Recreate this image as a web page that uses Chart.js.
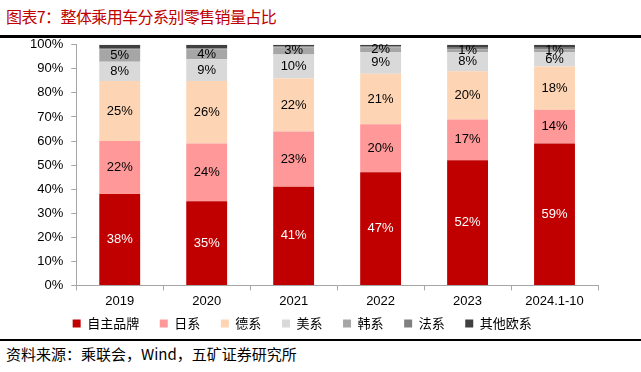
<!DOCTYPE html>
<html>
<head>
<meta charset="utf-8">
<script src="https://cdn.jsdelivr.net/npm/chart.js@4/dist/chart.umd.min.js"></script>
<style>
  body { margin: 0; background: #fff; width: 641px; height: 372px; position: relative; overflow: hidden; }
  #title { position: absolute; left: 6px; top: 4px; font: 16px "Noto Sans CJK SC", sans-serif; letter-spacing: -0.6px; color: #C00000; }
  #topline { position: absolute; left: 0; top: 35px; width: 641px; height: 3px; background: #000; }
  #wrap { position: absolute; left: 0; top: 29px; width: 641px; height: 309px; }
  #botline { position: absolute; left: 0; top: 339px; width: 641px; height: 2px; background: #000; }
  #source { position: absolute; left: 6px; top: 343px; font: 15px "Noto Sans CJK SC", sans-serif; color: #000; }
</style>
</head>
<body>
<div id="title">图表7：整体乘用车分系别零售销量占比</div>
<div id="topline"></div>
<div id="wrap"><canvas id="c"></canvas></div>
<div id="botline"></div>
<div id="source">资料来源：乘联会，Wind，五矿证券研究所</div>
<script>
const years = ['2019', '2020', '2021', '2022', '2023', '2024.1-10'];
const yTicks = [0, 10, 20, 30, 40, 50, 60, 70, 80, 90, 100];

const domestic = [38, 35, 41, 47, 52, 59];
const japanese = [22, 24, 23, 20, 17, 14];
const german = [25, 26, 22, 21, 20, 18];
const american = [8, 9, 10, 9, 8, 6];
const korean = [5, 4, 3, 2, 1, 1];
const french = [0.7, 0.6, 0.3, 0.3, 0.8, 0.8];
const otherEu = [1.3, 1.4, 0.7, 0.7, 1.2, 1.2];

const labelFont = '13px "Liberation Sans", Arial, sans-serif';

const barLabels = {
  id: 'barLabels',
  afterDatasetsDraw(chart) {
    const ctx = chart.ctx;
    ctx.save();
    ctx.font = labelFont;
    ctx.textAlign = 'center';
    ctx.textBaseline = 'middle';
    chart.data.datasets.forEach((ds, i) => {
      if (!ds.showLabel) return;
      chart.getDatasetMeta(i).data.forEach((bar, j) => {
        const y = (bar.y + bar.base) / 2;
        ctx.fillStyle = i === 0 ? '#fff' : '#000';
        ctx.fillText(Math.round(ds.data[j]) + '%', bar.x, y);
      });
    });
    ctx.restore();
  }
};

// default legend items, with extra space after each name for wider spacing
const legendLabels = chart =>
  Chart.defaults.plugins.legend.labels.generateLabels(chart).map(item => ({ ...item, text: item.text + '\u3000\u2009' }));

new Chart(document.getElementById('c'), {
  type: 'bar',
  data: {
    labels: years,
    datasets: [
      { label: '自主品牌', data: domestic, backgroundColor: '#C00000', showLabel: true },
      { label: '日系', data: japanese, backgroundColor: '#FF9999', showLabel: true },
      { label: '德系', data: german, backgroundColor: '#FDD5B4', showLabel: true },
      { label: '美系', data: american, backgroundColor: '#D9D9D9', showLabel: true },
      { label: '韩系', data: korean, backgroundColor: '#A6A6A6', showLabel: true },
      { label: '法系', data: french, backgroundColor: '#808080', showLabel: false },
      { label: '其他欧系', data: otherEu, backgroundColor: '#404040', showLabel: false }
    ]
  },
  options: {
    responsive: true,
    maintainAspectRatio: false,
    animation: false,
    datasets: { bar: { barPercentage: 0.47, categoryPercentage: 1 } },
    layout: { padding: { left: 22, right: 43, top: 0, bottom: -2 } },
    plugins: {
      legend: {
        position: 'bottom',
        align: 'center',
        labels: {
          boxWidth: 8,
          boxHeight: 8,
          padding: 5,
          color: '#000',
          font: { family: '"Noto Sans CJK SC", sans-serif', size: 13 },
          generateLabels: legendLabels
        }
      },
      tooltip: { enabled: false }
    },
    scales: {
      x: {
        stacked: true,
        grid: { display: true, drawOnChartArea: false, drawTicks: true, tickLength: 5, color: '#A6A6A6' },
        border: { color: '#A6A6A6' },
        ticks: { color: '#000', font: { family: '"Liberation Sans", Arial, sans-serif', size: 13 }, padding: 3, maxRotation: 0 }
      },
      y: {
        stacked: true,
        min: 0,
        max: 100,
        afterBuildTicks: axis => { axis.ticks = yTicks.map(v => ({ value: v })); },
        grid: { display: true, drawOnChartArea: false, drawTicks: true, tickLength: 5, color: '#A6A6A6' },
        border: { color: '#A6A6A6' },
        ticks: { color: '#000', font: { family: '"Liberation Sans", Arial, sans-serif', size: 13 }, padding: 8, callback: v => v + '%' }
      }
    }
  },
  plugins: [barLabels]
});
</script>
</body>
</html>
